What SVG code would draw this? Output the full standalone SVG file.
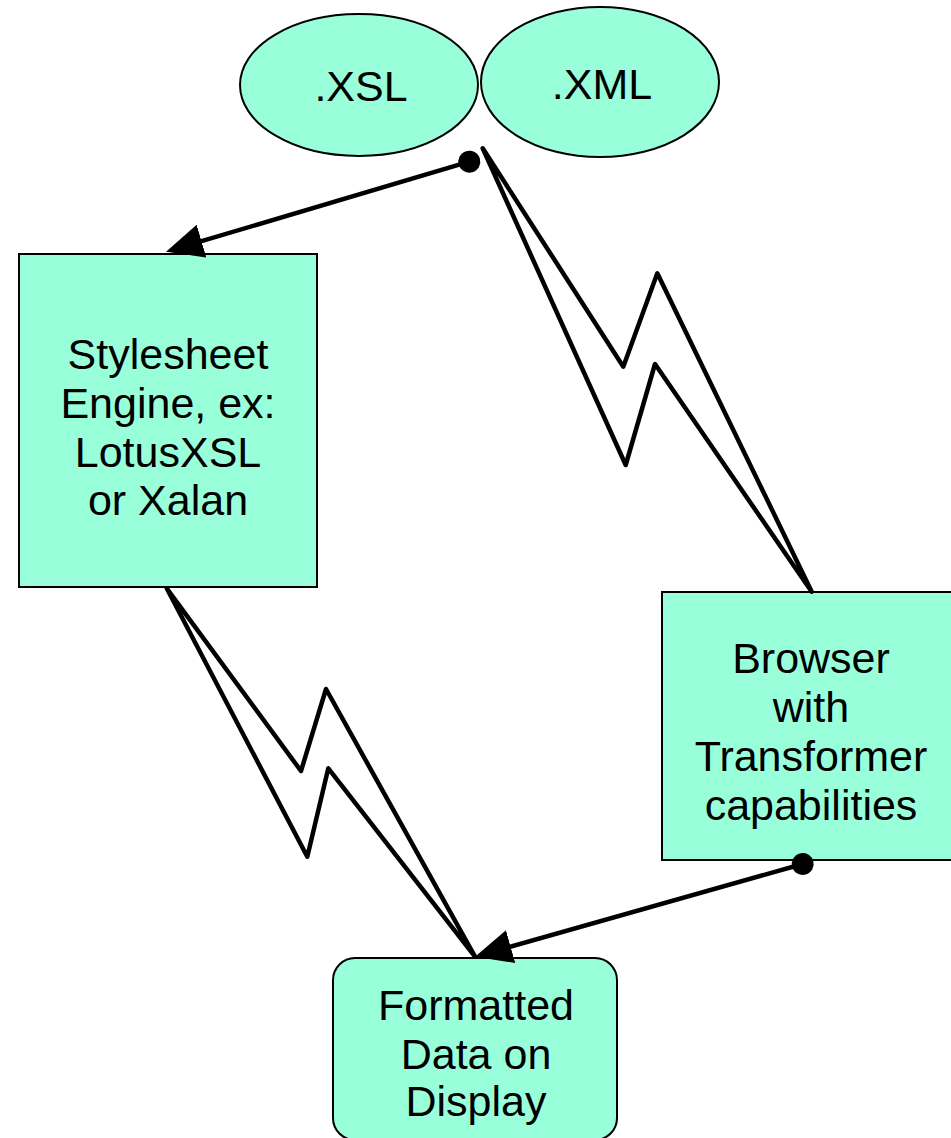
<svg xmlns="http://www.w3.org/2000/svg" width="951" height="1138" viewBox="0 0 951 1138">
<style>
.node{fill:#99FFDB;stroke:#000;stroke-width:2}
.lbl{font-family:"Liberation Sans",Arial,sans-serif;font-size:43px;fill:#000;text-anchor:middle}
.conn{stroke:#000;stroke-width:4.5;fill:none}
.bolt{stroke:#000;stroke-width:4.5;fill:none;stroke-linejoin:round}
</style>
<defs>
<marker id="arrow" markerUnits="userSpaceOnUse" viewBox="0 -18 38 36" markerWidth="38" markerHeight="36" refX="29" refY="0" orient="auto">
<path d="M0,-17 L37,0 L0,17 z" fill="#000"/>
</marker>
<marker id="dot" markerUnits="userSpaceOnUse" viewBox="-12 -12 24 24" markerWidth="24" markerHeight="24" refX="0" refY="0" orient="auto">
<circle cx="0" cy="0" r="11" fill="#000"/>
</marker>
</defs>
<rect width="951" height="1138" fill="#fff"/>
<g id="xsl">
<ellipse class="node" cx="359" cy="85" rx="119" ry="71"/>
<text class="lbl" x="361" y="101">.XSL</text>
</g>
<g id="xml">
<ellipse class="node" cx="600" cy="82" rx="119" ry="75"/>
<text class="lbl" x="602" y="99">.XML</text>
</g>
<g id="engine">
<rect class="node" x="19" y="254" width="298" height="333"/>
<text class="lbl" x="168" y="369">Stylesheet</text>
<text class="lbl" x="168" y="418">Engine, ex:</text>
<text class="lbl" x="168" y="467">LotusXSL</text>
<text class="lbl" x="168" y="515">or Xalan</text>
</g>
<g id="browser">
<rect class="node" x="662" y="592" width="300" height="268"/>
<text class="lbl" x="811" y="673">Browser</text>
<text class="lbl" x="811" y="722">with</text>
<text class="lbl" x="811" y="771">Transformer</text>
<text class="lbl" x="811" y="820">capabilities</text>
</g>
<g id="display">
<rect class="node" x="333" y="958" width="284" height="182" rx="22" ry="22"/>
<text class="lbl" x="476" y="1020">Formatted</text>
<text class="lbl" x="476" y="1069">Data on</text>
<text class="lbl" x="476" y="1116">Display</text>
</g>
<g id="connectors">
<line class="conn" x1="469.3" y1="161.7" x2="173.7" y2="249.4" marker-start="url(#dot)" marker-end="url(#arrow)"/>
<line class="conn" x1="802.7" y1="864" x2="482.7" y2="954.5" marker-start="url(#dot)" marker-end="url(#arrow)"/>
<polygon class="bolt" points="482.7,148.3 623.3,366.7 657.3,273.3 811.7,591.7 655,364 625.7,465"/>
<polygon class="bolt" points="166.7,588.3 301,771 326,689 475,956.7 328.3,768.3 307.3,856.7"/>
</g>
</svg>
